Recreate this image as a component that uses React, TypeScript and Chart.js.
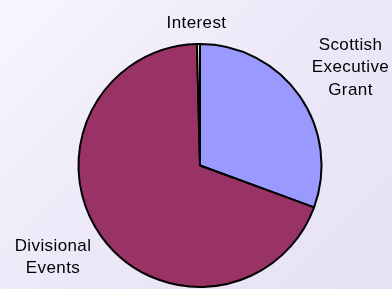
import React, { useEffect, useRef } from "react";
import { Chart, registerables } from "chart.js";

Chart.register(...registerables);

const categories = ["Scottish Executive Grant", "Divisional Events", "Interest"];
const values = [30.6, 69.0, 0.4];
const labelLines = [["Scottish", "Executive", "Grant"], ["Divisional", "Events"], ["Interest"]];
const colors = ["#9999ff", "#993366", "#ffffcc"];

const labelPlugin = {
  id: "outerLabels",
  afterDraw(chart: any) {
    const ctx = chart.ctx;
    const meta = chart.getDatasetMeta(0);
    const arc0 = meta.data[0];
    const cx = arc0.x;
    const cy = arc0.y;
    // label anchor offsets relative to pie centre (layout only)
    const anchors = [
      { dx: 150.5, dy: -116 },
      { dx: -147, dy: 85 },
      { dx: -3.5, dy: -137.5 },
    ];
    ctx.save();
    ctx.font = "17px 'Liberation Sans', Arial, sans-serif";
    (ctx as any).letterSpacing = "0.4px";
    ctx.fillStyle = "#000";
    ctx.textAlign = "center";
    ctx.textBaseline = "alphabetic";
    labelLines.forEach((lines, i) => {
      const a = anchors[i];
      lines.forEach((ln, j) => {
        ctx.fillText(ln, cx + a.dx, cy + a.dy + j * 22.5);
      });
    });
    ctx.restore();
  },
};

export default function App() {
  const ref = useRef<HTMLCanvasElement>(null);
  useEffect(() => {
    const chart = new Chart(ref.current!, {
      type: "pie",
      data: {
        labels: categories,
        datasets: [
          {
            data: values,
            backgroundColor: colors,
            borderColor: "#000",
            borderWidth: 2,
          },
        ],
      },
      options: {
        responsive: false,
        animation: false,
        layout: { padding: { left: 76, right: 68, top: 43, bottom: 1 } },
        plugins: {
          legend: { display: false },
          tooltip: { enabled: false },
        },
      },
      plugins: [labelPlugin],
    });
    return () => chart.destroy();
  }, []);
  return (
    <div
      style={{
        position: "fixed",
        left: 0,
        top: 0,
        width: 392,
        height: 289,
        overflow: "hidden",
        background: "linear-gradient(135deg, #f8f6fe 0%, #ece8f8 50%, #e6e2f4 100%)",
      }}
    >
      <canvas ref={ref} width={392} height={289} style={{ display: "block" }} />
    </div>
  );
}
